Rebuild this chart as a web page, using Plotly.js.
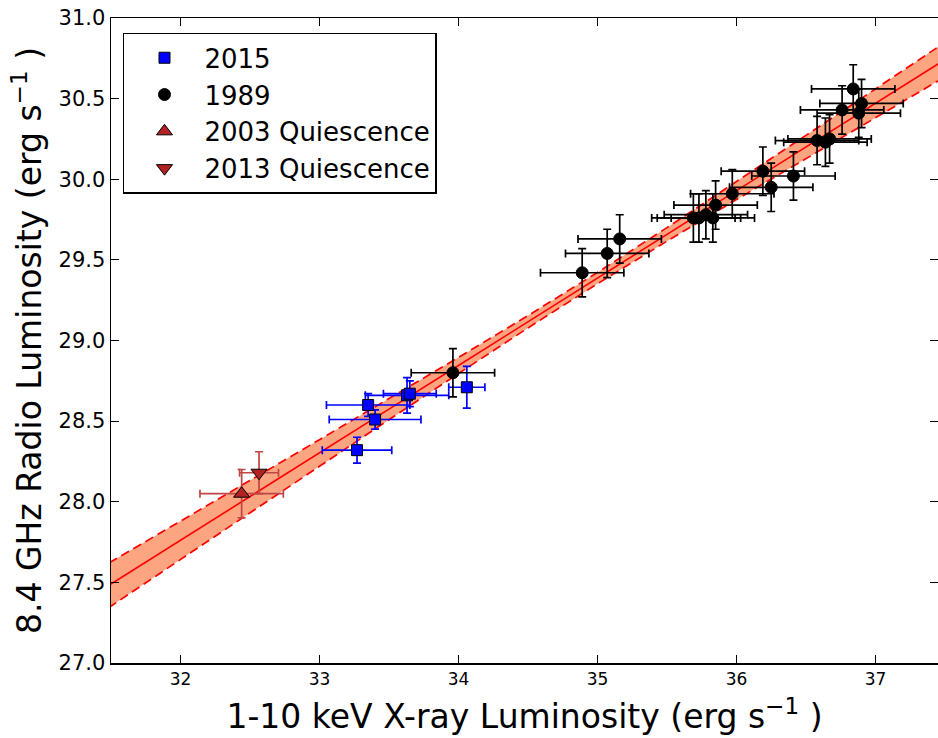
<!DOCTYPE html>
<html>
<head>
<meta charset="utf-8">
<script src="https://cdn.plot.ly/plotly-3.0.1.min.js"></script>
<style>html,body{margin:0;padding:0;background:#fff;}</style>
</head>
<body>
<div id="chart" style="width:938px;height:738px;"></div>
<script>
// ---- data ----
const x2015 = [33.27, 33.35, 33.40, 33.63, 33.65, 34.06];
const y2015 = [28.32, 28.60, 28.51, 28.66, 28.67, 28.71];
const xerr2015 = [0.25, 0.30, 0.33, 0.30, 0.19, 0.13];
const yerr2015 = [0.08, 0.07, 0.06, 0.11, 0.08, 0.13];

const x1989 = [33.96, 34.89, 35.07, 35.16, 35.69, 35.73, 35.78, 35.83, 35.85, 35.97, 36.19, 36.25, 36.41, 36.58, 36.64, 36.67, 36.76, 36.84, 36.88, 36.90];
const y1989 = [28.80, 29.42, 29.54, 29.63, 29.76, 29.76, 29.78, 29.76, 29.84, 29.91, 30.05, 29.95, 30.02, 30.24, 30.23, 30.25, 30.43, 30.56, 30.41, 30.47];
const xerr1989 = [0.30, 0.30, 0.30, 0.30, 0.30, 0.30, 0.30, 0.30, 0.30, 0.30, 0.30, 0.30, 0.30, 0.30, 0.30, 0.30, 0.30, 0.30, 0.30, 0.30];
const yerr1989 = [0.15, 0.15, 0.15, 0.15, 0.15, 0.15, 0.15, 0.15, 0.15, 0.15, 0.15, 0.15, 0.15, 0.15, 0.15, 0.15, 0.15, 0.15, 0.15, 0.15];

const x2003 = [32.44];
const y2003 = [28.05];
const xerr2003 = [0.30];
const yerr2003 = [0.15];

const x2013 = [32.565];
const y2013 = [28.18];
const xerr2013 = [0.14];
const yerr2013 = [0.13];

// fit line and its confidence band
const fitX     = [31.4, 31.5, 32.0, 32.5, 33.0, 33.5, 34.0, 34.5, 35.0, 35.5, 36.0, 36.5, 37.0, 37.5];
const fitMid   = [27.436, 27.490, 27.761, 28.032, 28.303, 28.574, 28.845, 29.116, 29.387, 29.658, 29.929, 30.200, 30.471, 30.742];
const fitUpper = [27.577, 27.627, 27.879, 28.132, 28.385, 28.639, 28.895, 29.154, 29.422, 29.700, 29.984, 30.272, 30.560, 30.849];
const fitLower = [27.295, 27.353, 27.643, 27.932, 28.221, 28.509, 28.795, 29.078, 29.352, 29.616, 29.874, 30.128, 30.382, 30.635];

const tickX = [32, 33, 34, 35, 36, 37];
const tickY = [27.0, 27.5, 28.0, 28.5, 29.0, 29.5, 30.0, 30.5, 31.0];

const FONT = 'DejaVu Sans, Liberation Sans, sans-serif';
const bandColor = 'rgb(253,164,128)';
const qColor = 'rgb(178,34,34)';
const qErr = 'rgb(190,70,70)';

function errs(arr, color) {
  return {type: 'data', array: arr, visible: true, color: color, thickness: 1.7, width: 4};
}

const traces = [
  {x: fitX, y: fitLower, mode: 'lines', line: {width: 0, color: bandColor}, showlegend: false, hoverinfo: 'skip'},
  {x: fitX, y: fitUpper, mode: 'lines', line: {width: 0, color: bandColor}, fill: 'tonexty', fillcolor: bandColor, showlegend: false, hoverinfo: 'skip'},
  {x: fitX, y: fitUpper, mode: 'lines', line: {width: 1.7, color: 'rgb(255,0,0)', dash: '9px,5px'}, showlegend: false},
  {x: fitX, y: fitLower, mode: 'lines', line: {width: 1.7, color: 'rgb(255,0,0)', dash: '9px,5px'}, showlegend: false},
  {x: fitX, y: fitMid, mode: 'lines', line: {width: 1.6, color: 'rgb(255,0,0)'}, showlegend: false},
  {x: x2015, y: y2015, name: '2015', mode: 'markers',
   marker: {symbol: 'square', size: 11, color: 'rgb(0,0,255)', line: {color: 'black', width: 1}},
   error_x: errs(xerr2015, 'rgb(0,0,255)'), error_y: errs(yerr2015, 'rgb(0,0,255)')},
  {x: x1989, y: y1989, name: '1989', mode: 'markers',
   marker: {symbol: 'circle', size: 12, color: 'black', line: {color: 'black', width: 1}},
   error_x: errs(xerr1989, 'black'), error_y: errs(yerr1989, 'black')},
  {x: x2003, y: y2003, name: '2003 Quiescence', mode: 'markers',
   marker: {symbol: 'triangle-up', size: 14, color: qColor, line: {color: 'black', width: 1}},
   error_x: errs(xerr2003, qErr), error_y: errs(yerr2003, qErr)},
  {x: x2013, y: y2013, name: '2013 Quiescence', mode: 'markers',
   marker: {symbol: 'triangle-down', size: 14, color: qColor, line: {color: 'black', width: 1}},
   error_x: errs(xerr2013, qErr), error_y: errs(yerr2013, qErr)}
];

const layout = {
  width: 938, height: 738,
  margin: {l: 111, r: 0, t: 18, b: 75},
  paper_bgcolor: 'white', plot_bgcolor: 'white',
  font: {family: FONT, color: 'black'},
  showlegend: true,
  legend: {
    x: 0.0145, y: 0.977, xanchor: 'left', yanchor: 'top',
    traceorder: 'normal',
    bordercolor: 'black', borderwidth: 1.5, bgcolor: 'white',
    font: {family: FONT, size: 26, color: 'black'},
    itemwidth: 70, tracegroupgap: 0
  },
  xaxis: {
    range: [31.5, 37.45], tickvals: tickX, ticktext: tickX.map(v => String(v)),
    ticks: 'inside', ticklen: 8, tickwidth: 1.2, tickcolor: 'black',
    showline: true, linecolor: 'black', linewidth: 1.5, mirror: 'ticks',
    showgrid: false, zeroline: false,
    tickfont: {family: FONT, size: 17, color: 'black'},
    title: {text: '1-10 keV X-ray Luminosity (erg s<sup>\u22121</sup> )', font: {family: FONT, size: 33, color: 'black'}, standoff: 17}
  },
  yaxis: {
    range: [27.0, 31.0], tickvals: tickY, ticktext: tickY.map(v => v.toFixed(1)),
    ticks: 'inside', ticklen: 8, tickwidth: 1.2, tickcolor: 'black',
    showline: true, linecolor: 'black', linewidth: 1.5, mirror: 'ticks',
    showgrid: false, zeroline: false,
    tickfont: {family: FONT, size: 21, color: 'black'},
    title: {text: '8.4 GHz Radio Luminosity (erg s<sup>\u22121</sup> )', font: {family: FONT, size: 33, color: 'black'}, standoff: 7}
  }
};

Plotly.newPlot('chart', traces, layout, {displayModeBar: false, staticPlot: true});
</script>
</body>
</html>
